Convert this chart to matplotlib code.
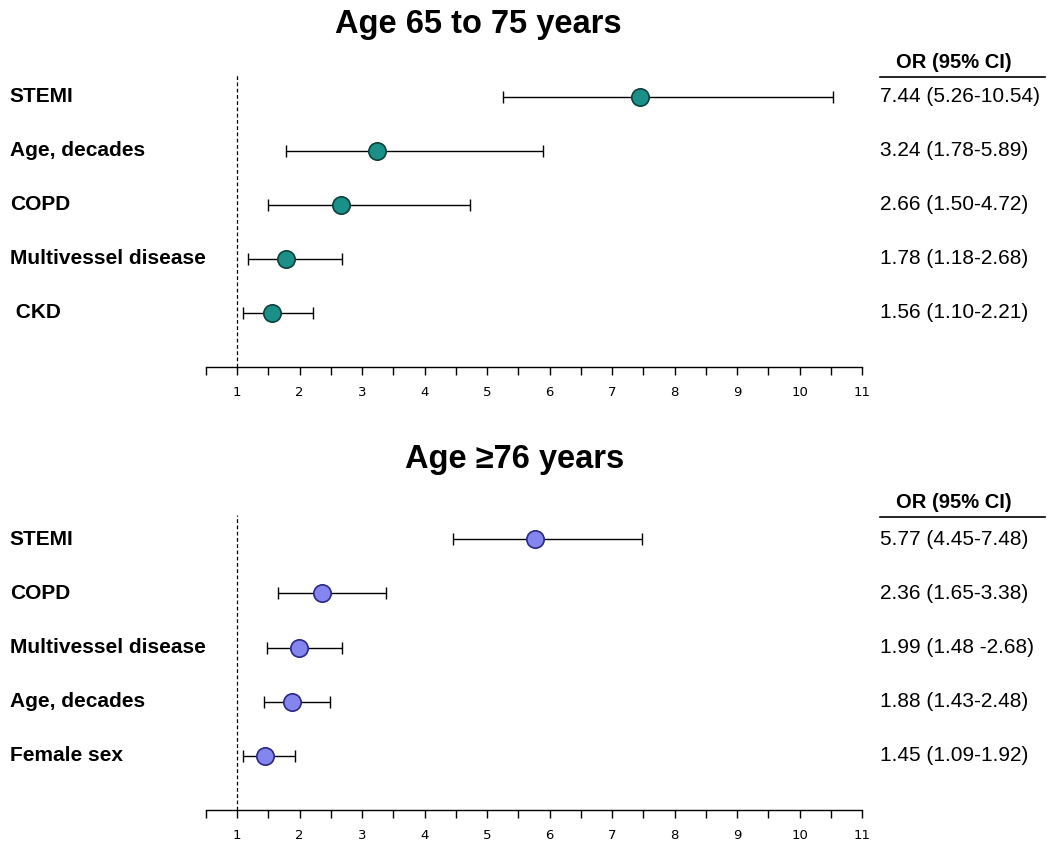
import matplotlib.pyplot as plt
import numpy as np

plt.rcParams['font.family'] = ['Liberation Sans', 'DejaVu Sans']

# Панель 1: вік 65-75 років
labels_1 = ["STEMI", "Age, decades", "COPD", "Multivessel disease", " CKD"]
or_1 = [7.44, 3.24, 2.66, 1.78, 1.56]
lo_1 = [5.26, 1.78, 1.50, 1.18, 1.10]
hi_1 = [10.54, 5.89, 4.72, 2.68, 2.21]
txt_1 = ["7.44 (5.26-10.54)", "3.24 (1.78-5.89)", "2.66 (1.50-4.72)",
         "1.78 (1.18-2.68)", "1.56 (1.10-2.21)"]

# Панель 2: вік >=76 років
labels_2 = ["STEMI", "COPD", "Multivessel disease", "Age, decades", "Female sex"]
or_2 = [5.77, 2.36, 1.99, 1.88, 1.45]
lo_2 = [4.45, 1.65, 1.48, 1.43, 1.09]
hi_2 = [7.48, 3.38, 2.68, 2.48, 1.92]
txt_2 = ["5.77 (4.45-7.48)", "2.36 (1.65-3.38)", "1.99 (1.48 -2.68)",
         "1.88 (1.43-2.48)", "1.45 (1.09-1.92)"]

fig = plt.figure(figsize=(10.47, 8.42), dpi=100)


def forest(ax, labels, ors, lo, hi, txt, face, edge, title, ytop, title_x, title_dy):
    n = len(labels)
    y = np.arange(n, 0, -1)
    ors = np.array(ors)
    err = [ors - np.array(lo), np.array(hi) - ors]
    ax.errorbar(ors, y, xerr=err, fmt='none', ecolor='black', elinewidth=1,
                capsize=4, capthick=1, zorder=2)
    ax.plot(ors, y, 'o', ms=12.5, mfc=face, mec=edge, mew=1.2, zorder=3)
    ax.axvline(1, color='black', ls=(0, (3, 2)), lw=0.9, zorder=1)

    ax.set_xlim(0.5, 11)
    ax.set_ylim(0, ytop)
    for s in ['left', 'top', 'right']:
        ax.spines[s].set_visible(False)
    ax.spines['bottom'].set_linewidth(1)
    ax.set_yticks([])
    ax.set_xticks(range(1, 12))
    ax.set_xticks(np.arange(0.5, 11.01, 1.0), minor=True)
    ax.tick_params(axis='x', which='both', direction='out', length=6, width=1)
    ax.tick_params(axis='x', which='major', pad=8, labelsize=9.5)
    for t in ax.get_xticklabels():
        t.set_family(['DejaVu Sans'])

    tr = ax.get_yaxis_transform()
    for yi, lab, t in zip(y, labels, txt):
        ax.text(-0.299, yi, lab, transform=tr, ha='left', va='center',
                fontsize=15, fontweight='bold')
        ax.text(1.027, yi, t, transform=tr, ha='left', va='center', fontsize=15)

    ax.text(1.14, ytop + 0.24, "OR (95% CI)", transform=tr, ha='center',
            va='center', fontsize=14.5, fontweight='bold')
    ax.plot([1.027, 1.279], [ytop - 0.03, ytop - 0.03], transform=tr,
            color='black', lw=1.2, clip_on=False)
    ax.text(title_x, ytop + title_dy, title, transform=tr, ha='center',
            va='center', fontsize=23.5, fontweight='bold')


ax1 = fig.add_axes([206 / 1047, 1 - 367 / 842, 656 / 1047, 292 / 842])
forest(ax1, labels_1, or_1, lo_1, hi_1, txt_1, '#1a9088', '#10403c',
       "Age 65 to 75 years", 5.4, (478 - 206) / 656, 0.93)

ax2 = fig.add_axes([206 / 1047, 1 - 810 / 842, 656 / 1047, 295 / 842])
forest(ax2, labels_2, or_2, lo_2, hi_2, txt_2, '#8585f0', '#2a2a80',
       "Age \u226576 years", 5.45, (515 - 206) / 656, 1.02)

fig.savefig("out.png", dpi=100)
